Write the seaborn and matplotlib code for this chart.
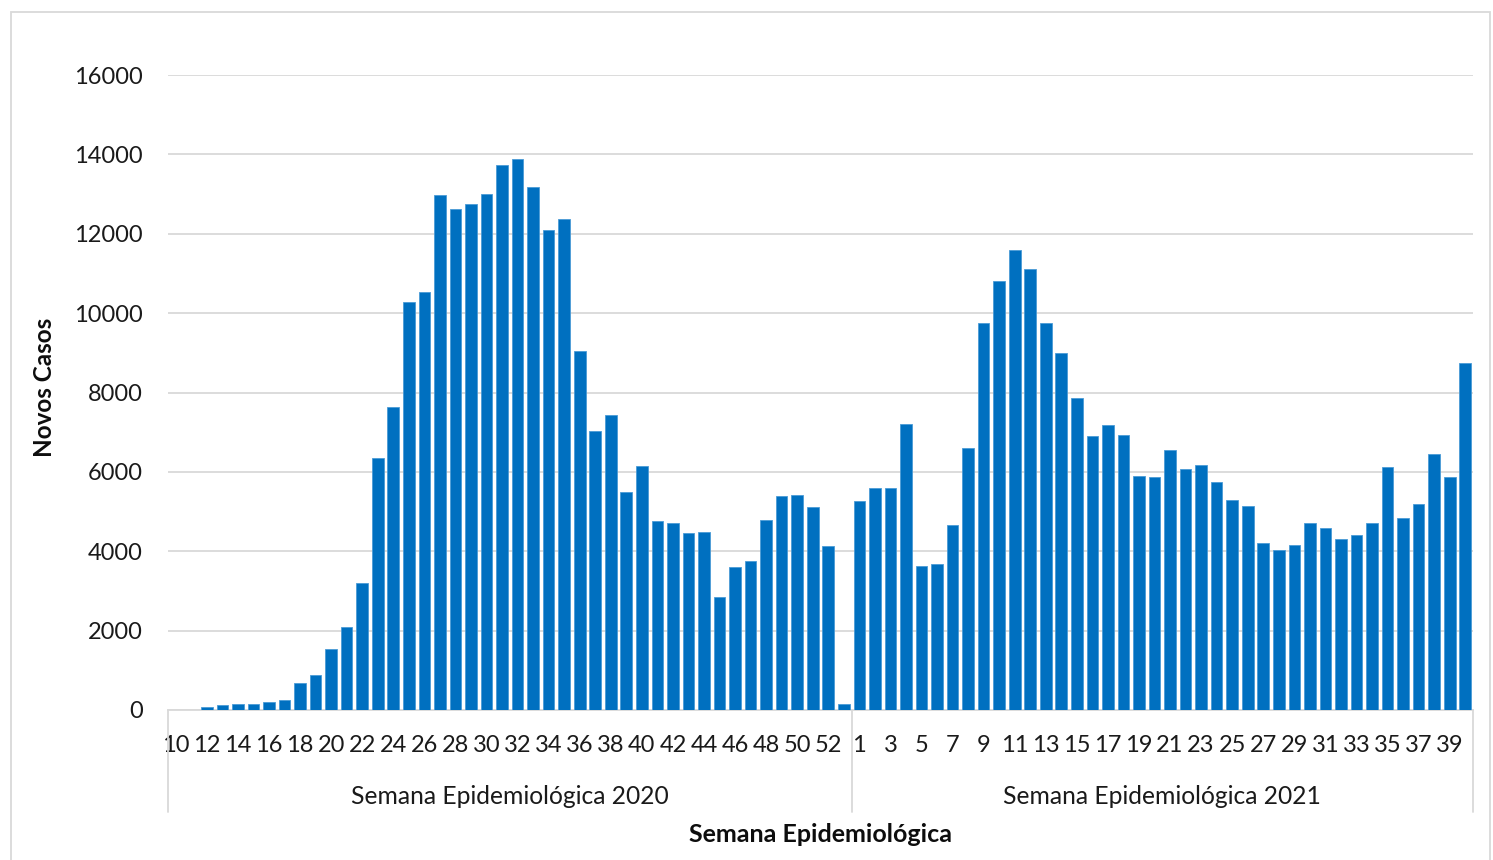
import numpy as np
import pandas as pd
import matplotlib
matplotlib.use("Agg")
import matplotlib.pyplot as plt
import matplotlib.transforms as mtransforms
from matplotlib.patches import Rectangle
import seaborn as sns

# ---- data ----
weeks_2020 = list(range(10, 54))
cases_2020 = [0, 3, 80, 130, 160, 140, 190, 240, 670, 870, 1545, 2100, 3210, 6360,
              7630, 10270, 10530, 12970, 12620, 12740, 13010, 13720, 13890, 13170,
              12090, 12370, 9050, 7030, 7440, 5500, 6160, 4770, 4720, 4450, 4480,
              2850, 3610, 3760, 4800, 5380, 5420, 5120, 4120, 140]
weeks_2021 = list(range(1, 41))
cases_2021 = [5270, 5600, 5590, 7210, 3630, 3690, 4660, 6590, 9760, 10800,
              11600, 11100, 9750, 8990, 7870, 6900, 7170, 6930, 5890, 5860,
              6540, 6070, 6180, 5740, 5290, 5150, 4210, 4020, 4160, 4720,
              4590, 4320, 4420, 4720, 6130, 4840, 5200, 6460, 5860, 8750]
group_labels = ["Semana Epidemiológica 2020", "Semana Epidemiológica 2021"]
y_ticks = [0, 2000, 4000, 6000, 8000, 10000, 12000, 14000, 16000]

weeks = weeks_2020 + weeks_2021
cases = cases_2020 + cases_2021
df = pd.DataFrame({"pos": np.arange(len(weeks)), "semana": weeks, "casos": cases})

sns.set_theme(style="white")
FONT = ["Lato", "DejaVu Sans"]
plt.rcParams["font.family"] = FONT

W, H = 1493, 860
fig = plt.figure(figsize=(W / 100, H / 100), dpi=100)
left, right, top, bottom = 168, 1473, 75, 710
ax = fig.add_axes([left / W, 1 - bottom / H, (right - left) / W, (bottom - top) / H])

sns.barplot(data=df, x="pos", y="casos", color="#0070C0", saturation=1,
            width=0.75, edgecolor="#4A9BD6", linewidth=0.6, ax=ax, zorder=3)

ax.set_xlim(-0.5, len(weeks) - 0.5)
ax.set_ylim(0, 16000)
ax.set_yticks(y_ticks)
ax.set_yticklabels([str(v) for v in y_ticks], fontsize=17, color="#1a1a1a")
ax.yaxis.grid(True, color="#D9D9D9", linewidth=1.3, zorder=0)
ax.xaxis.grid(False)
ax.set_axisbelow(True)

tick_pos = list(range(0, len(weeks), 2))
ax.set_xticks(tick_pos)
ax.set_xticklabels([str(weeks[i]) for i in tick_pos], fontsize=17, color="#1a1a1a")
ax.tick_params(axis="x", length=0, pad=18)
ax.tick_params(axis="y", length=0, pad=18)
ax.set_xlabel("")
ax.set_ylabel("")

for s in ["top", "right", "left"]:
    ax.spines[s].set_visible(False)
ax.spines["bottom"].set_color("#D9D9D9")
ax.spines["bottom"].set_linewidth(1.3)

# group separators for multi-level category axis
trans = mtransforms.blended_transform_factory(ax.transData, ax.transAxes)
sep_depth = (812 - bottom) / (bottom - top)
n20 = len(weeks_2020)
for xs in [-0.5, n20 - 0.5, len(weeks) - 0.5]:
    ax.plot([xs, xs], [0, -sep_depth], transform=trans, color="#D9D9D9",
            linewidth=1.3, clip_on=False)
gy = -(796 - bottom) / (bottom - top)
ax.text((-0.5 + n20 - 0.5) / 2, gy, group_labels[0], transform=trans,
        ha="center", va="center", fontsize=17.7, color="#1a1a1a")
ax.text((n20 - 0.5 + len(weeks) - 0.5) / 2, gy, group_labels[1], transform=trans,
        ha="center", va="center", fontsize=17.7, color="#1a1a1a")

fig.text((left + right) / 2 / W, 1 - 834 / H, "Semana Epidemiológica",
         ha="center", va="center", fontsize=18, fontweight="bold", color="#0d0d0d")
fig.text(44 / W, 1 - 387 / H, "Novos Casos", rotation=90,
         ha="center", va="center", fontsize=17.5, fontweight="bold", color="#0d0d0d")

# chart area border
fig.patches.append(Rectangle((11 / W, -0.01), (1490 - 11) / W, 1 - 12 / H + 0.01,
                             transform=fig.transFigure, fill=False,
                             edgecolor="#D9D9D9", linewidth=1.3))

fig.savefig("out.png", dpi=100)
